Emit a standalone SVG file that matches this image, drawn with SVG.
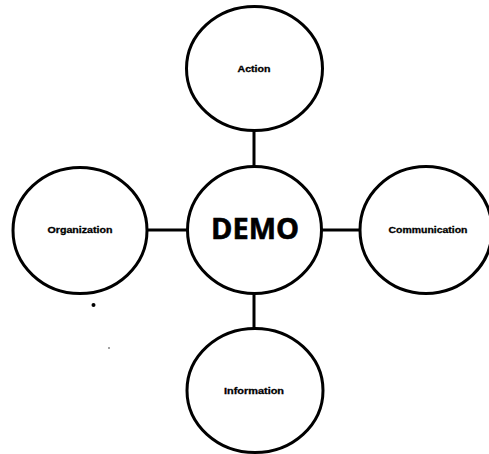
<svg xmlns="http://www.w3.org/2000/svg" width="489" height="454" viewBox="0 0 489 454">
<style>
.c{fill:#fff;stroke:#000;stroke-width:3}
.l{stroke:#000;stroke-width:3;fill:none}
.t{font-family:"Liberation Sans",Arial,sans-serif;font-weight:bold;font-size:9px;fill:#000;stroke:#000;stroke-width:0.3;text-anchor:middle;dominant-baseline:central}
.big{font-family:"Open Sans","Liberation Sans",sans-serif;font-weight:bold;font-size:28px;fill:#000;stroke:#000;stroke-width:0.6;text-anchor:middle;dominant-baseline:central}
</style>
<rect width="489" height="454" fill="#fff"/>
<g id="connectors">
<line class="l" x1="254" y1="130" x2="254" y2="167"/>
<line class="l" x1="254" y1="293" x2="254" y2="329"/>
<line class="l" x1="147" y1="230" x2="188" y2="230"/>
<line class="l" x1="321" y1="230" x2="361" y2="230"/>
</g>
<g id="action"><ellipse class="c" cx="254.5" cy="68.5" rx="68" ry="62"/><text class="t" x="254" y="69" textLength="33" lengthAdjust="spacingAndGlyphs">Action</text></g>
<g id="organization"><ellipse class="c" cx="80" cy="230.5" rx="67" ry="63"/><text class="t" x="80" y="230" textLength="65" lengthAdjust="spacingAndGlyphs">Organization</text></g>
<g id="demo"><ellipse class="c" cx="254.5" cy="230" rx="67" ry="63.5"/><text class="big" x="255" y="228" textLength="88" lengthAdjust="spacingAndGlyphs">DEMO</text></g>
<g id="communication"><ellipse class="c" cx="426" cy="230" rx="66" ry="63.5"/><text class="t" x="428" y="230" textLength="79" lengthAdjust="spacingAndGlyphs">Communication</text></g>
<g id="information"><ellipse class="c" cx="255" cy="390.5" rx="68" ry="62"/><text class="t" x="254" y="391" textLength="60" lengthAdjust="spacingAndGlyphs">Information</text></g>
<circle cx="93.5" cy="305" r="2" fill="#000"/>
<circle cx="109" cy="348" r="0.7" fill="#000"/>
</svg>
